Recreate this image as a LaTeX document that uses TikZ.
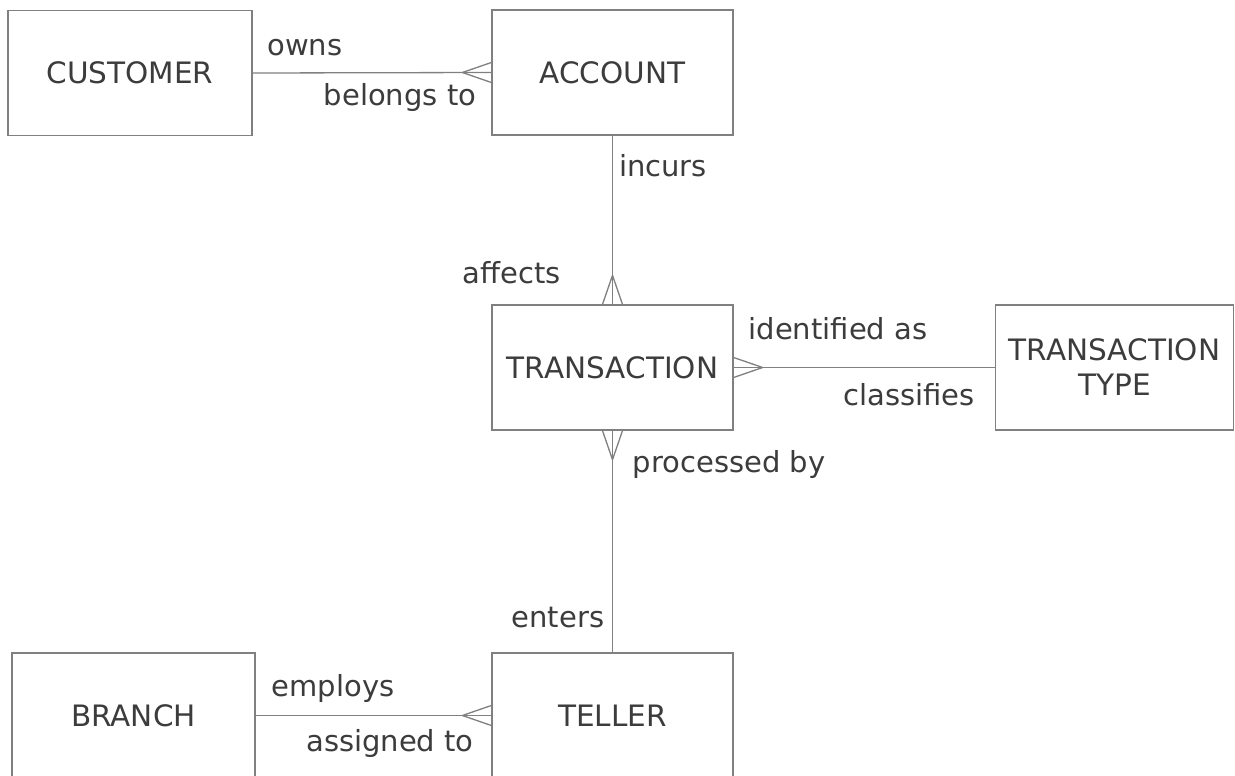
\documentclass[tikz,border=0pt]{standalone}
\usepackage{fontspec}
\setmainfont{DejaVu Sans}
\usetikzlibrary{calc}
\definecolor{linegray}{HTML}{808080}
\definecolor{txt}{HTML}{3C3C3C}
\begin{document}
\begin{tikzpicture}[x=1pt,y=-1pt,
  ent/.style={draw=linegray, line width=1.3pt, minimum width=241pt, minimum height=125pt, inner sep=0pt,
    font=\fontsize{29.5}{35}\selectfont, text=txt, align=center},
  lbl/.style={font=\fontsize{29}{34}\selectfont, text=txt, inner sep=0pt},
  conn/.style={draw=linegray, line width=1.3pt}]
\useasboundingbox (0,0) rectangle (1235,776);
\fill[white] (0,0) rectangle (1235,776);
% entities
\node[ent, minimum width=244pt] (cust) at (130,73) {CUSTOMER};
\node[ent] (acct) at (612.5,72.5) {ACCOUNT};
\node[ent] (trans) at (612.5,367.5) {TRANSACTION};
\node[ent, minimum width=238pt] (ttype) at (1114.5,367.5) {TRANSACTION\\TYPE};
\node[ent, minimum width=243pt] (branch) at (133.5,715.5) {BRANCH};
\node[ent] (teller) at (612.5,715.5) {TELLER};
% connectors
\draw[conn] (cust.east) -- (acct.west);
\draw[conn] ($(acct.west)+(0,-10)$) -- ($(acct.west)+(-29,0)$) -- ($(acct.west)+(0,10)$);
\draw[conn] (acct.south) -- (trans.north);
\draw[conn] ($(trans.north)+(-10,0)$) -- ($(trans.north)+(0,-29)$) -- ($(trans.north)+(10,0)$);
\draw[conn] (trans.east) -- (ttype.west);
\draw[conn] ($(trans.east)+(0,-10)$) -- ($(trans.east)+(29,0)$) -- ($(trans.east)+(0,10)$);
\draw[conn] (trans.south) -- (teller.north);
\draw[conn] ($(trans.south)+(-10,0)$) -- ($(trans.south)+(0,29)$) -- ($(trans.south)+(10,0)$);
\draw[conn] (branch.east) -- (teller.west);
\draw[conn] ($(teller.west)+(0,-10)$) -- ($(teller.west)+(-29,0)$) -- ($(teller.west)+(0,10)$);
% labels
\node[lbl] (l1) at (305,48) {owns};
\node[lbl] (l2) at (400,97) {belongs to};
\node[lbl] (l3) at (663,166) {incurs};
\node[lbl] (l4) at (512,273) {affects};
\node[lbl] (l5) at (838,329) {identified as};
\node[lbl] (l6) at (909,395) {classifies};
\node[lbl] (l7) at (729,464) {processed by};
\node[lbl] (l8) at (558,618) {enters};
\node[lbl] (l9) at (333,688) {employs};
\node[lbl] (l10) at (390,743) {assigned to};
\end{tikzpicture}
\end{document}
